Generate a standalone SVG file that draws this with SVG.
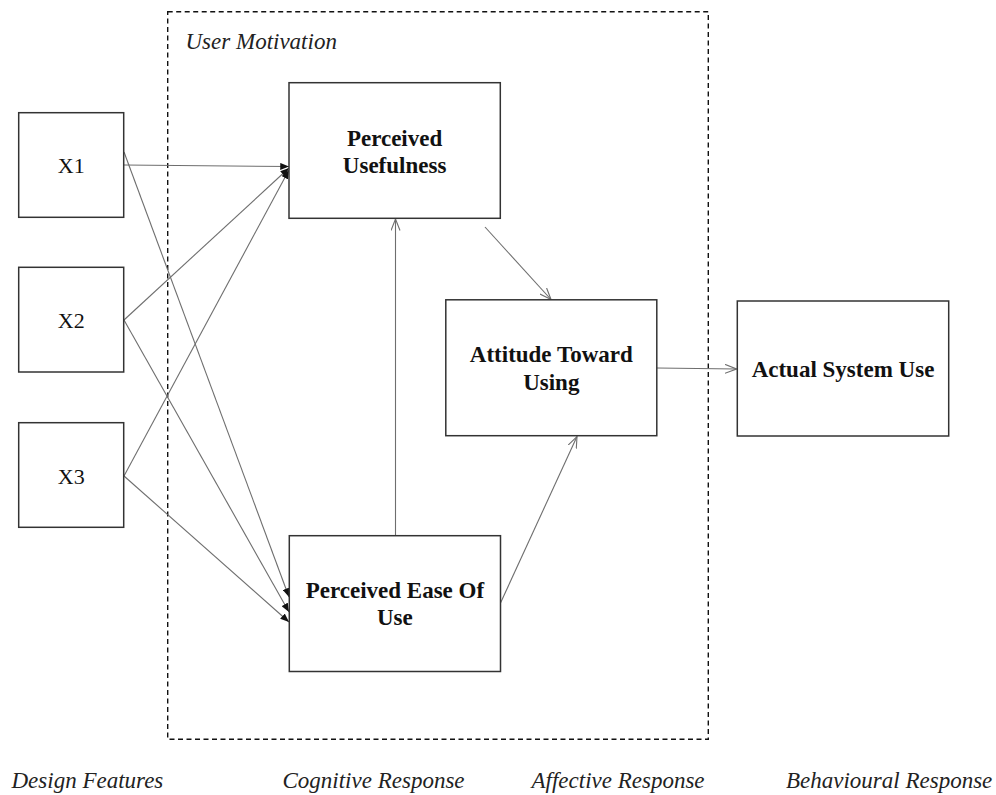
<svg xmlns="http://www.w3.org/2000/svg" width="996" height="795" viewBox="0 0 996 795">
  <style>
    .box { fill: #ffffff; stroke: #333333; stroke-width: 1.5; }
    .frame { fill: none; stroke: #111111; stroke-width: 1.4; stroke-dasharray: 5 3.5; }
    .edge { fill: none; stroke: #6e6e6e; stroke-width: 1.1; }
    .solid { marker-end: url(#headFilled); }
    .open { marker-end: url(#headOpen); }
    .node-title { font-family: "Liberation Serif", "Times New Roman", serif; font-weight: bold; font-size: 23px; fill: #111111; text-anchor: middle; }
    .var { font-family: "Liberation Serif", "Times New Roman", serif; font-size: 22px; fill: #111111; text-anchor: middle; }
    .caption { font-family: "Liberation Serif", "Times New Roman", serif; font-style: italic; font-size: 23px; fill: #222222; }
  </style>
  <defs>
    <marker id="headFilled" viewBox="0 0 10 8" refX="10" refY="4" markerWidth="9" markerHeight="7" markerUnits="userSpaceOnUse" orient="auto">
      <path d="M0,0 L10,4 L0,8 Z" fill="#111111"/>
    </marker>
    <marker id="headOpen" viewBox="0 0 12 10" refX="11.5" refY="5" markerWidth="12" markerHeight="10" markerUnits="userSpaceOnUse" orient="auto">
      <path d="M0,0.5 L11.5,5 L0,9.5" fill="none" stroke="#6e6e6e" stroke-width="1.1"/>
    </marker>
  </defs>

  <rect width="996" height="795" fill="#ffffff"/>

  <!-- User motivation boundary -->
  <g id="user-motivation">
    <rect class="frame" x="167.7" y="11.7" width="540.6" height="727.6"/>
    <text class="caption" x="185.5" y="49">User Motivation</text>
  </g>

  <!-- Connectors -->
  <g id="connectors">
    <line class="edge solid" x1="124" y1="165" x2="289" y2="166.5"/>
    <line class="edge solid" x1="124" y1="152" x2="289" y2="597"/>
    <line class="edge solid" x1="124" y1="320" x2="289" y2="168"/>
    <line class="edge solid" x1="124" y1="320" x2="289" y2="612"/>
    <line class="edge solid" x1="124" y1="476" x2="289" y2="170"/>
    <line class="edge solid" x1="124" y1="476" x2="289" y2="622"/>
    <line class="edge open" x1="395.5" y1="536" x2="395.5" y2="219"/>
    <line class="edge open" x1="485" y1="227" x2="551" y2="299.5"/>
    <line class="edge open" x1="500.5" y1="603" x2="577" y2="436.5"/>
    <line class="edge open" x1="657" y1="368" x2="736.5" y2="369"/>
  </g>

  <!-- Design features -->
  <g id="x1">
    <rect class="box" x="18.7" y="112.7" width="105" height="104.6"/>
    <text class="var" x="71.2" y="173">X1</text>
  </g>
  <g id="x2">
    <rect class="box" x="18.7" y="267.3" width="105" height="104.7"/>
    <text class="var" x="71.2" y="328">X2</text>
  </g>
  <g id="x3">
    <rect class="box" x="18.7" y="422.7" width="105" height="104.6"/>
    <text class="var" x="71.2" y="483.5">X3</text>
  </g>

  <!-- Cognitive response -->
  <g id="perceived-usefulness">
    <rect class="box" x="289" y="82.7" width="211.3" height="135.6"/>
    <text class="node-title" x="394.6" y="145.5">Perceived</text>
    <text class="node-title" x="394.6" y="173.3">Usefulness</text>
  </g>
  <g id="perceived-ease-of-use">
    <rect class="box" x="289.3" y="535.7" width="211.2" height="135.8"/>
    <text class="node-title" x="394.9" y="597.5">Perceived Ease Of</text>
    <text class="node-title" x="394.9" y="625.3">Use</text>
  </g>

  <!-- Affective response -->
  <g id="attitude-toward-using">
    <rect class="box" x="445.8" y="299.8" width="211" height="135.9"/>
    <text class="node-title" x="551.3" y="362">Attitude Toward</text>
    <text class="node-title" x="551.3" y="390">Using</text>
  </g>

  <!-- Behavioural response -->
  <g id="actual-system-use">
    <rect class="box" x="737.3" y="301" width="211.4" height="135"/>
    <text class="node-title" x="843" y="377">Actual System Use</text>
  </g>

  <!-- Stage captions -->
  <g id="stage-captions">
    <text class="caption" x="11.5" y="788">Design Features</text>
    <text class="caption" x="282.5" y="788">Cognitive Response</text>
    <text class="caption" x="531.5" y="788">Affective Response</text>
    <text class="caption" x="786" y="788">Behavioural Response</text>
  </g>
</svg>
